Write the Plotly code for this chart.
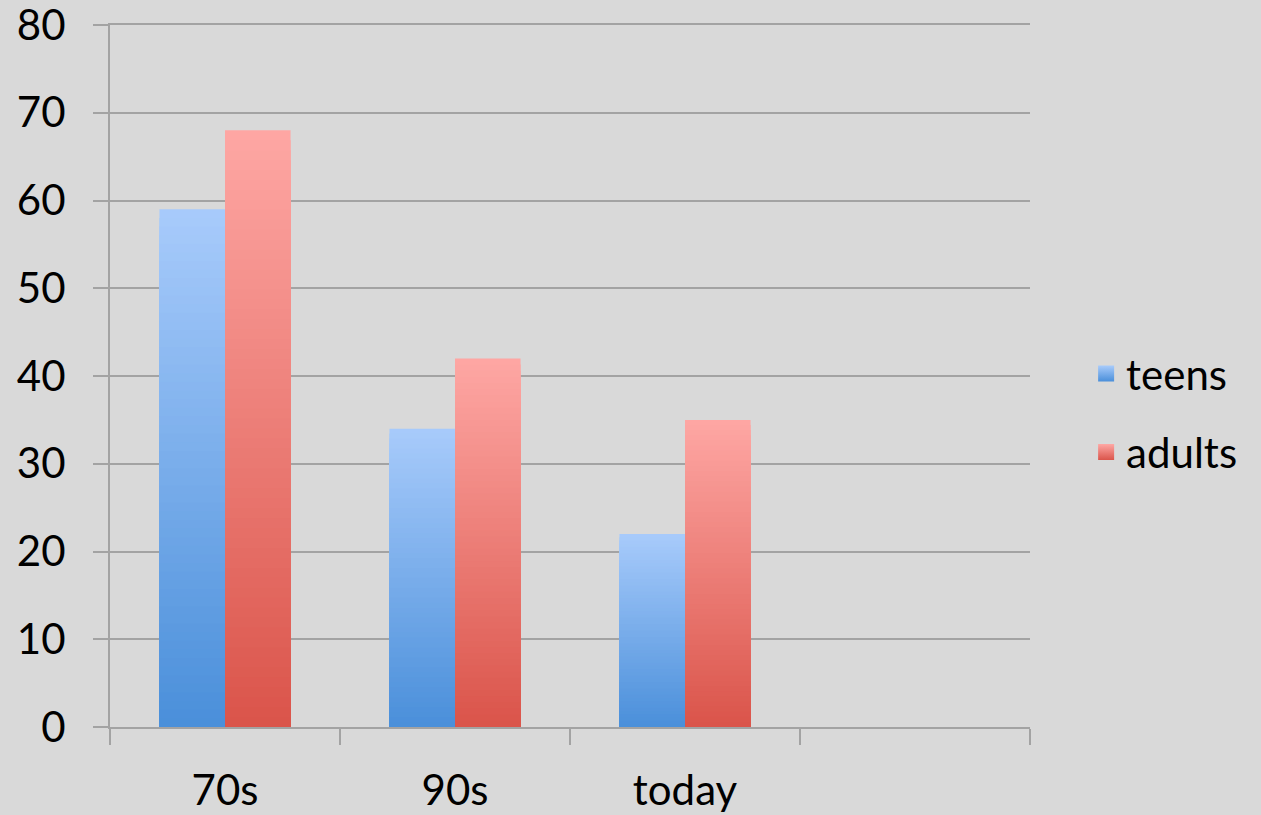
import plotly.graph_objects as go

categories = ["70s", "90s", "today", " "]
teens = [59, 34, 22, None]
adults = [68, 42, 35, None]
series_names = ["teens", "adults"]

teens_top = (168, 203, 251)
teens_bottom = (74, 143, 218)
adults_top = (254, 167, 164)
adults_bottom = (218, 84, 74)

N_SLICES = 60
FONT = "Lato"
GRID = "#a3a3a3"


def mix(c1, c2, t):
    return "rgb(%d,%d,%d)" % tuple(round(a + (b - a) * t) for a, b in zip(c1, c2))


fig = go.Figure()

for name, vals, top, bottom in [
    ("teens", teens, teens_top, teens_bottom),
    ("adults", adults, adults_top, adults_bottom),
]:
    # overlapping bars, tallest first, each shorter one covering the lower part
    for k in range(N_SLICES):
        frac = 1 - k / N_SLICES
        ys = [None if v is None else v * frac for v in vals]
        fig.add_trace(go.Bar(
            x=categories, y=ys,
            offsetgroup=name,
            marker=dict(color=mix(bottom, top, frac - 0.5 / N_SLICES), line=dict(width=0)),
            showlegend=False, hoverinfo="skip",
        ))
    # legend entry
    fig.add_trace(go.Scatter(
        x=[None], y=[None], mode="markers", name=name, legendgroup=name,
        marker=dict(symbol="square", size=16, color=mix(bottom, top, 1.0),
                    gradient=dict(type="vertical", color=mix(bottom, top, 0.0)),
                    line=dict(width=0)),
    ))

fig.update_layout(
    width=1261, height=815,
    paper_bgcolor="#d9d9d9", plot_bgcolor="#d9d9d9",
    margin=dict(l=110, r=231, t=25, b=88),
    barmode="overlay", bargap=0.43, bargroupgap=0,
    font=dict(family=FONT, size=42, color="#000000"),
    showlegend=True,
    legend=dict(x=1.061, y=0.447, xanchor="left", yanchor="middle",
                traceorder="grouped", tracegroupgap=21,
                font=dict(family=FONT, size=42), itemsizing="trace",
                bgcolor="rgba(0,0,0,0)"),
)

fig.update_xaxes(
    type="category", categoryorder="array", categoryarray=categories,
    range=[-0.5, 3.5], tickson="boundaries", automargin=False,
    ticks="outside", ticklen=16, tickwidth=2, tickcolor=GRID,
    showline=True, linecolor=GRID, linewidth=2, mirror=True,
    showgrid=False, ticklabelstandoff=26, ticklabeloverflow="allow",
)
fig.update_yaxes(
    range=[0, 80], dtick=10, tick0=0, automargin=False,
    ticks="outside", ticklen=15, tickwidth=2, tickcolor=GRID,
    showline=True, linecolor=GRID, linewidth=2,
    showgrid=True, gridcolor=GRID, gridwidth=2,
    zeroline=False, ticklabelstandoff=19, ticklabeloverflow="allow",
)

fig.write_html("out.html")
